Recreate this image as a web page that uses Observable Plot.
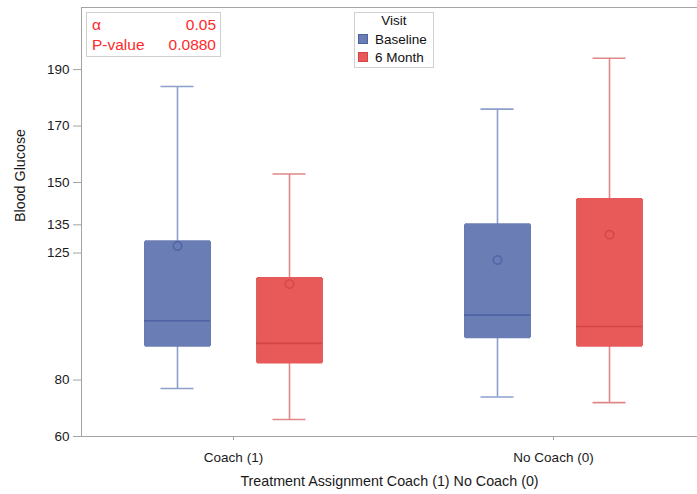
<!DOCTYPE html>
<html>
<head>
<meta charset="utf-8">
<script src="https://cdn.jsdelivr.net/npm/d3@7"></script>
<script src="https://cdn.jsdelivr.net/npm/@observablehq/plot@0.6"></script>
<style>
  html, body { margin: 0; padding: 0; background: #fff; overflow: hidden; }
  #wrap { position: relative; width: 697px; height: 494px; font-family: "Liberation Sans", Arial, sans-serif; }
  .box { position: absolute; border: 1px solid #d0d0d0; background: #fff; box-sizing: border-box; }
  .stat { position: absolute; color: #ff2a2a; font-size: 15.5px; white-space: nowrap; line-height: 1; }
  .leg { position: absolute; color: #111; font-size: 13.5px; white-space: nowrap; line-height: 1; }
  .sw { position: absolute; width: 10px; height: 10px; box-sizing: border-box; }
</style>
</head>
<body>
<div id="wrap"></div>
<script>
// ---- data ----
const groups = ["Coach (1)", "Coach (1)", "No Coach (0)", "No Coach (0)"];
const visits = ["Baseline", "6 Month", "Baseline", "6 Month"];
const whiskerLow = [77, 66, 74, 72];
const q1 = [92, 86, 95, 92];
const median = [101, 93, 103, 99];
const q3 = [129, 116, 135, 144];
const whiskerHigh = [184, 153, 176, 194];
const mean = [127.5, 114, 122.5, 131.5];
const categories = ["Coach (1)", "No Coach (0)"];
const visitOrder = ["Baseline", "6 Month"];
const yTicks = [60, 80, 125, 135, 150, 170, 190];
const yLabel = "Blood Glucose";
const xLabel = "Treatment Assignment Coach (1) No Coach (0)";
const statLabels = ["α", "P-value"];
const statValues = ["0.05", "0.0880"];

// ---- styles ----
const fillColors = ["#6a7db4", "#e85959"];
const edgeColors = ["#4d63a4", "#d44646"];
const whiskerColors = ["#8d9fcb", "#e28787"];
const visitDx = [-56, 56];
const axisGray = "#a3a3a3";

const rows = groups.map((g, i) => ({
  group: g, visit: visits[i], low: whiskerLow[i], q1: q1[i], median: median[i],
  q3: q3[i], high: whiskerHigh[i], mean: mean[i]
}));

const marks = [];
visitOrder.forEach((v, k) => {
  const sub = rows.filter(d => d.visit === v);
  const dx = visitDx[k];
  marks.push(
    Plot.ruleX(sub, {x: "group", y1: "low", y2: "high", stroke: whiskerColors[k], strokeWidth: 1.6, dx}),
    Plot.tickY(sub, {x: "group", y: "low", stroke: whiskerColors[k], strokeWidth: 1.6, dx, insetLeft: -16.5, insetRight: -16.5}),
    Plot.tickY(sub, {x: "group", y: "high", stroke: whiskerColors[k], strokeWidth: 1.6, dx, insetLeft: -16.5, insetRight: -16.5}),
    Plot.ruleX(sub, {x: "group", y1: "q1", y2: "q3", stroke: edgeColors[k], strokeOpacity: 0.85, strokeWidth: 67, dx}),
    Plot.ruleX(sub, {x: "group", y1: "q1", y2: "q3", stroke: fillColors[k], strokeWidth: 65, insetTop: 1, insetBottom: 1, dx}),
    Plot.tickY(sub, {x: "group", y: "median", stroke: edgeColors[k], strokeWidth: 1.6, dx, insetLeft: -33, insetRight: -33}),
    Plot.dot(sub, {x: "group", y: "mean", r: 4.2, stroke: edgeColors[k], strokeWidth: 1.4, fill: "none", dx})
  );
});

const chart = Plot.plot({
  width: 697,
  height: 494,
  marginLeft: 81,
  marginRight: 0,
  marginTop: 7,
  marginBottom: 58,
  style: {fontFamily: "'Liberation Sans', Arial, sans-serif", fontSize: "13.5px", background: "#fff"},
  x: {type: "band", domain: categories, paddingInner: 1, paddingOuter: 0.4625, align: 0.5135},
  y: {domain: [60, 212]},
  marks: [
    Plot.frame({anchor: "top", stroke: axisGray}),
    Plot.frame({anchor: "left", stroke: axisGray}),
    Plot.frame({anchor: "bottom", stroke: axisGray}),
    Plot.axisY({ticks: yTicks, tickSize: 8, tickPadding: 4, stroke: axisGray, fill: "#1a1a1a", fontSize: 13.5, label: null}),
    Plot.axisX({tickSize: 4, tickPadding: 12, stroke: axisGray, fill: "#1a1a1a", fontSize: 13.5, label: null}),
    Plot.text([yLabel], {text: d => d, frameAnchor: "left", rotate: -90, dx: -61, fontSize: 14.3, fill: "#1a1a1a"}),
    Plot.text([xLabel], {text: d => d, frameAnchor: "bottom", dy: 49, fontSize: 14.3, fill: "#1a1a1a"}),
    ...marks
  ]
});

const wrap = document.getElementById("wrap");
wrap.appendChild(chart);

// stats inset
const inset = document.createElement("div");
inset.className = "box";
Object.assign(inset.style, {left: "86px", top: "12px", width: "135px", height: "45px"});
wrap.appendChild(inset);
statLabels.forEach((s, i) => {
  const l = document.createElement("div");
  l.className = "stat"; l.textContent = s;
  Object.assign(l.style, {left: "92px", top: (17 + i * 20) + "px"});
  wrap.appendChild(l);
  const r = document.createElement("div");
  r.className = "stat"; r.textContent = statValues[i];
  Object.assign(r.style, {right: (697 - 216) + "px", top: (17 + i * 20) + "px"});
  wrap.appendChild(r);
});

// legend
const leg = document.createElement("div");
leg.className = "box";
Object.assign(leg.style, {left: "354px", top: "12px", width: "80px", height: "56px"});
wrap.appendChild(leg);
const title = document.createElement("div");
title.className = "leg"; title.textContent = "Visit";
Object.assign(title.style, {left: "354px", width: "80px", textAlign: "center", top: "14px"});
wrap.appendChild(title);
visitOrder.forEach((v, k) => {
  const sw = document.createElement("div");
  sw.className = "sw";
  Object.assign(sw.style, {left: "358px", top: (34 + k * 18) + "px", background: fillColors[k], border: "1px solid " + edgeColors[k]});
  wrap.appendChild(sw);
  const t = document.createElement("div");
  t.className = "leg"; t.textContent = v;
  Object.assign(t.style, {left: "375px", top: (33 + k * 18) + "px"});
  wrap.appendChild(t);
});
</script>
</body>
</html>
